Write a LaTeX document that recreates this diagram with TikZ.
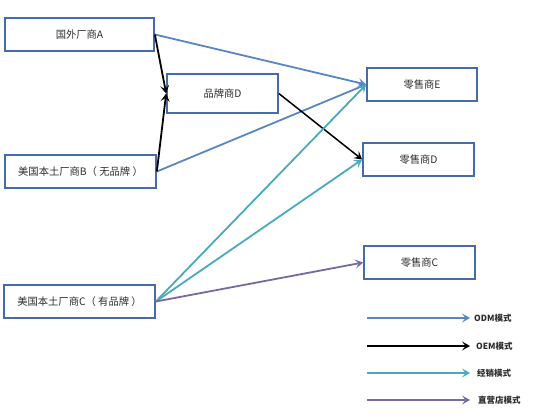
\documentclass[tikz,border=0pt]{standalone}
\usepackage{fontspec}
\setmainfont{Noto Sans CJK SC}
\usetikzlibrary{arrows.meta}
\definecolor{boxc}{RGB}{68,108,168}
\definecolor{odm}{RGB}{88,134,192}
\definecolor{oem}{RGB}{0,0,0}
\definecolor{jx}{RGB}{72,170,186}
\definecolor{zy}{RGB}{122,104,162}
\definecolor{txt}{RGB}{45,45,45}
\tikzset{
  box/.style={draw=boxc, line width=1.7pt, rectangle, minimum height=33pt, text=txt, font=\fontsize{10.3}{12}\selectfont, inner sep=0pt},
  arr/.style={line width=1.8pt, -{Stealth[length=8pt,width=9pt,inset=3.5pt]}},
  leg/.style={anchor=west, text=txt, font=\fontsize{8.5}{9}\selectfont\bfseries, inner sep=0pt}
}
\begin{document}
\begin{tikzpicture}[x=1pt,y=-1pt]
\useasboundingbox (0,0) rectangle (550,418);
\node[box, minimum width=149pt] (A) at (79.5,34.5) {国外厂商A};
\node[box, minimum width=111pt, minimum height=39pt] (BD) at (222.5,93.5) {品牌商D};
\node[box, minimum width=151pt] (B) at (80.5,171.5) {美国本土厂商B（ 无品牌 ）};
\node[box, minimum width=151pt] (C) at (79.5,301.5) {美国本土厂商C（ 有品牌 ）};
\node[box, minimum width=110pt] (E) at (422,84.5) {零售商E};
\node[box, minimum width=111pt] (RD) at (418.5,159.5) {零售商D};
\node[box, minimum width=111pt] (RC) at (419.5,262.5) {零售商C};

\draw[arr, odm] (A.east) -- (E.west);
\draw[arr, odm] (B.east) -- (E.west);
\draw[arr, oem] (A.east) -- (BD.west);
\draw[arr, oem] (B.east) -- (BD.west);
\draw[arr, oem, line width=1.5pt] (BD.east) -- (RD.west);
\draw[arr, jx] (C.east) -- (E.west);
\draw[arr, jx] (C.east) -- (RD.west);
\draw[arr, zy] (C.east) -- (RC.west);

\coordinate (l1s) at (367,318); \coordinate (l1e) at (470,318);
\coordinate (l2s) at (367,346); \coordinate (l2e) at (470,346);
\coordinate (l3s) at (367,373); \coordinate (l3e) at (470,373);
\coordinate (l4s) at (367,400); \coordinate (l4e) at (470,400);
\draw[arr, odm] (l1s) -- (l1e);
\draw[arr, oem] (l2s) -- (l2e);
\draw[arr, jx] (l3s) -- (l3e);
\draw[arr, zy] (l4s) -- (l4e);
\node[leg] (t1) at (474,318) {ODM模式};
\node[leg] (t2) at (476,346) {OEM模式};
\node[leg] (t3) at (477,373) {经销模式};
\node[leg] (t4) at (478,400) {直营店模式};
\end{tikzpicture}
\end{document}
